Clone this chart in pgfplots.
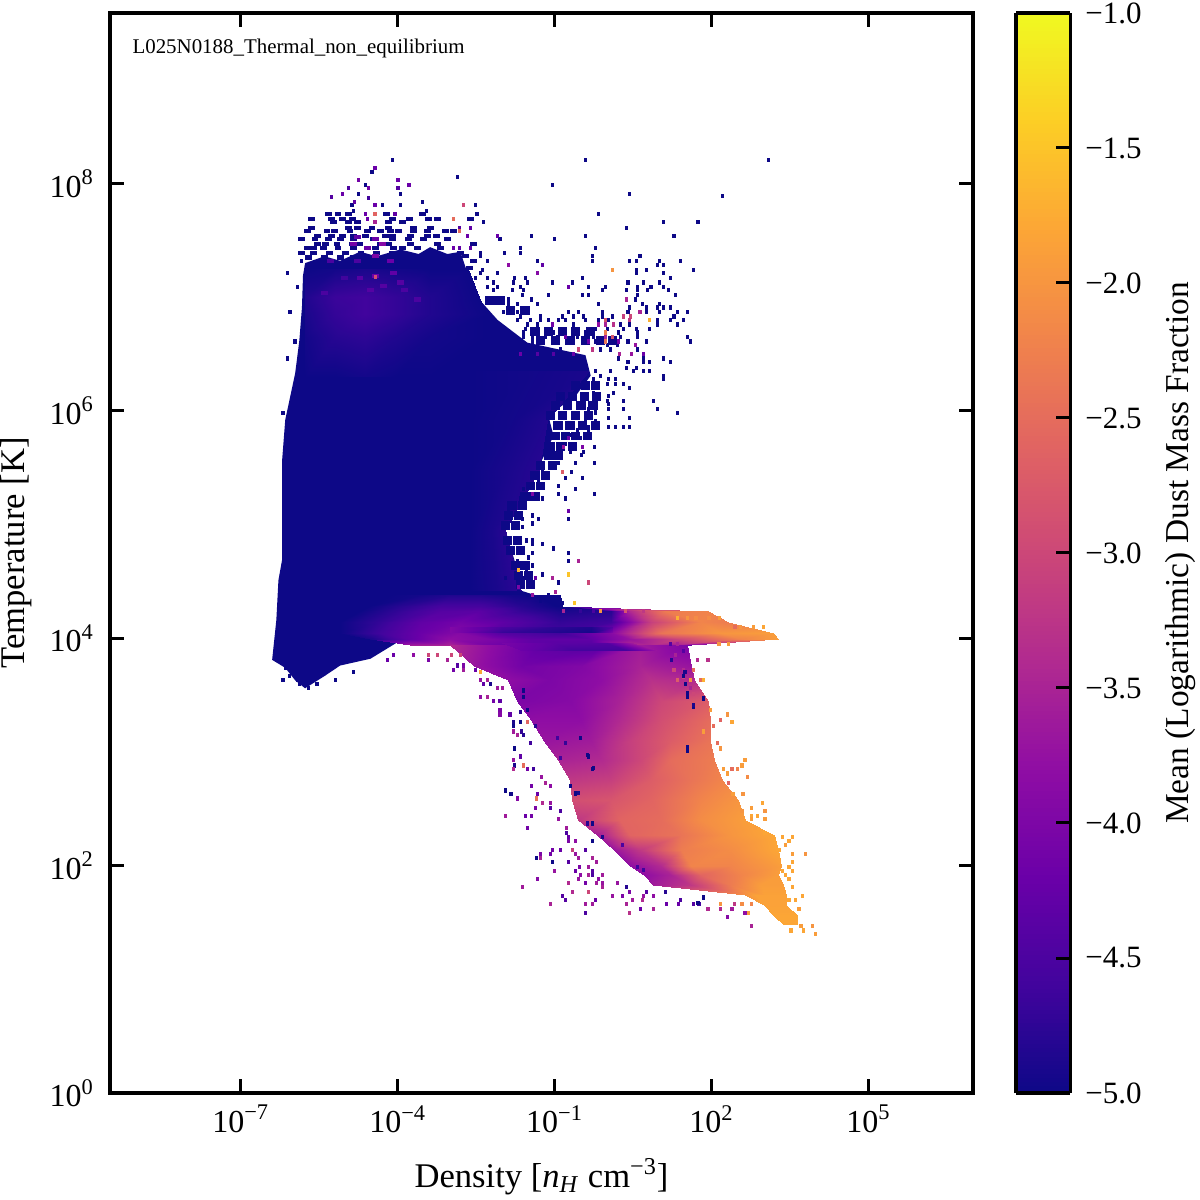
\documentclass[border=0pt]{standalone}
\usepackage{fontspec}
\setmainfont{Liberation Serif}
\usepackage{pgfplots}
\pgfplotsset{compat=1.18}
\definecolor{plasmalow}{RGB}{13,8,135}
% one histogram bin, 3.4 x 4.2 px of the image, and runs of them
\pgfdeclareplotmark{cell}{\pgfpathrectangle{\pgfpoint{-0.85pt}{-1.05pt}}{\pgfpoint{1.7pt}{2.1pt}}\pgfusepathqfill}
\pgfdeclareplotmark{cellw}{\pgfpathrectangle{\pgfpoint{-1.7pt}{-1.05pt}}{\pgfpoint{3.4pt}{2.1pt}}\pgfusepathqfill}
\pgfdeclareplotmark{cellb}{\pgfpathrectangle{\pgfpoint{-2.4pt}{-2.2pt}}{\pgfpoint{4.8pt}{4.4pt}}\pgfusepathqfill}
\newcommand{\pten}[1]{10\textsuperscript{#1}}
\begin{document}
\begin{tikzpicture}
\useasboundingbox (-55pt,-53.5pt) rectangle (545pt,546.5pt);
\begin{axis}[
    at={(0,0)}, anchor=south west,
    scale only axis, width=431.5pt, height=540pt,
    xmin=-9.5, xmax=7, ymin=0, ymax=9.5,
    xtick={-7,-4,-1,2,5},
    xticklabels={\pten{−7},\pten{−4},\pten{−1},\pten{2},\pten{5}},
    ytick={0,2,4,6,8},
    yticklabels={\pten{0},\pten{2},\pten{4},\pten{6},\pten{8}},
    tick align=inside, major tick length=7pt, tickpos=both,
    every tick/.style={line width=1.5pt,black},
    line width=1.6pt,
    tick label style={font=\fontsize{16}{19}\selectfont},
    xticklabel style={yshift=-2pt},
    yticklabel style={xshift=-4pt},
    label style={font=\fontsize{17.3}{20}\selectfont},
    xlabel={Density [\textit{n}\textsubscript{\textit{H}} cm\textsuperscript{−3}]},
    ylabel={Temperature [K]},
    xlabel style={at={(0.5,0)},anchor=base,yshift=-47pt},
    ylabel style={at={(0,0.5)},anchor=base,yshift=42.5pt},
    colormap={plasma}{rgb255=(13,8,135) rgb255=(65,4,157) rgb255=(106,0,168) rgb255=(143,13,164) rgb255=(177,42,144) rgb255=(204,71,120) rgb255=(225,100,98) rgb255=(241,132,75) rgb255=(252,166,54) rgb255=(252,206,37) rgb255=(240,249,33)},
    point meta min=-5, point meta max=-1,
    colorbar sampled,
    colorbar style={
        samples=257,
        at={(parent axis.south east)}, anchor=south west, xshift=13pt,
        width=27pt, height=540pt,
        ytick={-5,-4.5,-4,-3.5,-3,-2.5,-2,-1.5,-1},
        yticklabels={−5.0,−4.5,−4.0,−3.5,−3.0,−2.5,−2.0,−1.5,−1.0},
        yticklabel pos=right, ytick pos=right,
        tick align=inside, major tick length=7pt,
        every tick/.style={line width=1.5pt,black},
        line width=1.6pt,
        tick label style={font=\fontsize{15.5}{18}\selectfont},
        yticklabel style={xshift=3.5pt},
        ylabel={Mean (Logarithmic) Dust Mass Fraction},
        every axis y label/.style={at={(axis description cs:3.04,0.5)},anchor=center,rotate=90,font=\fontsize{16.7}{20}\selectfont},
    },
]
% solid part of the hot low density cloud
\addplot[fill=plasmalow,draw=none] table[row sep=\\]{
-5.77 7.30\\ -5.40 7.36\\ -5.10 7.32\\ -4.72 7.40\\ -4.40 7.36\\ -3.95 7.42\\ -3.60 7.38\\ -3.38 7.44\\ -3.05 7.38\\ -2.80 7.40\\ -2.65 7.19\\ -2.42 6.97\\ -2.09 6.80\\ -1.52 6.60\\
-0.41 6.49\\ -0.31 6.31\\ -0.60 6.13\\ -1.12 5.96\\ -1.02 5.78\\ -1.27 5.54\\ -1.65 5.24\\ -1.94 4.95\\ -1.75 4.66\\
-1.65 4.42\\ -0.89 4.31\\ -0.89 4.11\\ -2.61 4.05\\ -3.38 4.05\\ -3.95 3.98\\ -4.52 3.82\\ -5.10 3.76\\ -5.39 3.67\\
-5.77 3.56\\ -5.96 3.63\\ -6.15 3.74\\ -6.40 3.81\\ -6.32 4.16\\ -6.28 4.51\\ -6.21 4.69\\ -6.21 5.56\\ -6.15 5.92\\
-5.96 6.33\\ -5.88 6.62\\ -5.83 6.91\\ -5.81 7.19\\
} -- cycle;
% purple tint at the top of the cloud
\addplot[surf,shader=interp,mesh/cols=6,point meta=\thisrow{c}] table[row sep=\\]{
x y c\\
-5.77 7.25 -5\\ -5.20 7.25 -4.95\\ -4.62 7.25 -4.9\\ -4.05 7.25 -4.95\\ -3.38 7.25 -5\\ -2.65 7.25 -5\\
-5.77 7.00 -4.85\\ -5.20 7.00 -4.65\\ -4.62 7.00 -4.6\\ -4.05 7.00 -4.7\\ -3.38 7.00 -4.85\\ -2.45 7.00 -5\\
-5.77 6.85 -4.9\\ -5.20 6.85 -4.7\\ -4.62 6.85 -4.6\\ -4.05 6.85 -4.7\\ -3.38 6.85 -4.85\\ -2.30 6.85 -5\\
-5.77 6.65 -4.95\\ -5.20 6.65 -4.8\\ -4.62 6.65 -4.75\\ -4.05 6.65 -4.85\\ -3.38 6.65 -4.95\\ -2.30 6.65 -5\\
-5.77 6.30 -5\\ -5.20 6.30 -5\\ -4.62 6.30 -4.95\\ -4.05 6.30 -5\\ -3.38 6.30 -5\\ -2.30 6.30 -5\\
};
% tint along the right edge of the cloud
\addplot[surf,shader=interp,mesh/cols=3,point meta=\thisrow{c}] table[row sep=\\]{
x y c\\
-2.61 6.35 -5\\ -1.30 6.35 -4.95\\ -0.35 6.35 -4.9\\
-2.61 5.92 -5\\ -1.80 5.92 -4.95\\ -1.15 5.92 -4.85\\
-2.61 5.48 -5\\ -1.90 5.48 -4.9\\ -1.30 5.48 -4.8\\
-2.61 4.95 -5\\ -2.20 4.95 -4.9\\ -1.94 4.95 -4.8\\
-2.61 4.42 -5\\ -2.10 4.42 -4.9\\ -1.65 4.42 -4.75\\
};
% arch and the 10^4 K shelf
\addplot[surf,shader=interp,mesh/cols=10,point meta=\thisrow{c}] table[row sep=\\]{
x y c\\
-4.14 4.38 -5\\ -3.57 4.38 -4.95\\ -2.99 4.38 -4.85\\ -2.42 4.38 -4.85\\ -1.84 4.38 -4.95\\ -1.37 4.38 -5\\ -1.08 4.38 -5\\ -0.96 4.38 -5\\ -0.93 4.38 -5\\ -0.89 4.38 -5\\
-4.52 4.28 -5\\ -3.95 4.28 -4.8\\ -3.18 4.28 -4.55\\ -2.42 4.28 -4.55\\ -1.65 4.28 -4.8\\ -0.98 4.28 -5\\ -0.93 4.28 -5\\ -0.89 4.28 -5\\ -0.87 4.28 -5\\ -0.85 4.28 -5\\
-4.72 4.24 -5\\ -3.95 4.24 -4.7\\ -3.18 4.24 -4.4\\ -2.42 4.24 -4.35\\ -1.65 4.24 -4.7\\ -0.89 4.24 -4.9\\ 0.07 4.24 -4.8\\ 0.45 4.24 -3.4\\ 1.12 4.24 -2.3\\ 1.93 4.24 -2.2\\
-5.10 4.14 -5\\ -4.33 4.14 -4.7\\ -3.57 4.14 -4.3\\ -2.80 4.14 -4.1\\ -2.04 4.14 -4.3\\ -0.89 4.14 -4.7\\ 0.07 4.14 -4.6\\ 0.84 4.14 -3.1\\ 1.79 4.14 -2.2\\ 2.31 4.14 -2.3\\
-5.10 4.05 -5\\ -4.33 4.05 -4.6\\ -3.57 4.05 -4.2\\ -2.80 4.05 -3.9\\ -2.04 4.05 -4.4\\ -0.89 4.05 -4.6\\ 0.07 4.05 -3.9\\ 1.03 4.05 -2.4\\ 2.17 4.05 -2.0\\ 3.17 4.05 -1.9\\
-4.52 3.99 -4.9\\ -3.76 3.99 -4.3\\ -3.00 3.99 -3.8\\ -2.23 3.99 -4.0\\ -1.46 3.99 -4.3\\ -0.31 3.99 -4.3\\ 0.45 3.99 -3.7\\ 1.41 3.99 -3.0\\ 2.56 3.99 -2.2\\ 3.28 3.99 -1.9\\
-3.76 3.94 -3.6\\ -2.99 3.94 -3.5\\ -2.23 3.94 -4.1\\ -1.46 3.94 -4.3\\ -0.31 3.94 -4.4\\ 0.45 3.94 -3.4\\ 0.84 3.94 -3.4\\ 1.22 3.94 -3.6\\ 1.50 3.94 -4\\ 1.60 3.94 -4.3\\
};
% cold dense gas
\addplot[surf,shader=interp,mesh/cols=5,point meta=\thisrow{c}] table[row sep=\\]{
x y c\\
-2.99 3.94 -3.4\\ -1.27 3.94 -4.3\\ -0.12 3.94 -4.4\\ 0.64 3.94 -3.6\\ 1.54 3.94 -4.0\\
-2.55 3.76 -3.7\\ -1.65 3.76 -4.1\\ -0.50 3.76 -3.95\\ 0.64 3.76 -3.5\\ 1.60 3.76 -3.7\\
-1.90 3.63 -3.8\\ -1.08 3.63 -4.0\\ -0.12 3.63 -3.8\\ 0.84 3.63 -3.3\\ 1.66 3.63 -3.4\\
-1.71 3.45 -4\\ -0.70 3.45 -3.9\\ 0.26 3.45 -3.5\\ 1.03 3.45 -3.0\\ 1.93 3.45 -2.7\\
-1.46 3.28 -3.8\\ -0.50 3.28 -3.8\\ 0.26 3.28 -3.4\\ 1.03 3.28 -2.9\\ 1.98 3.28 -2.5\\
-1.21 3.10 -3.7\\ -0.31 3.10 -3.6\\ 0.45 3.10 -3.1\\ 1.22 3.10 -2.7\\ 1.98 3.10 -2.4\\
-0.94 2.93 -3.5\\ -0.12 2.93 -3.4\\ 0.64 2.93 -3.0\\ 1.22 2.93 -2.5\\ 2.04 2.93 -2.3\\
-0.70 2.75 -3.2\\ 0.07 2.75 -3.1\\ 0.84 2.75 -2.7\\ 1.60 2.75 -2.4\\ 2.21 2.75 -2.2\\
-0.66 2.58 -2.9\\ 0.07 2.58 -2.8\\ 0.84 2.58 -2.6\\ 1.79 2.58 -2.2\\ 2.50 2.58 -2.0\\
-0.56 2.40 -3.2\\ 0.26 2.40 -2.6\\ 1.03 2.40 -2.5\\ 1.79 2.40 -2.1\\ 2.65 2.40 -1.9\\
-0.18 2.27 -3.6\\ 0.45 2.27 -2.6\\ 1.41 2.27 -2.4\\ 2.37 2.27 -2.0\\ 3.19 2.27 -1.8\\
0.13 2.14 -3.7\\ 0.64 2.14 -3.2\\ 1.41 2.14 -2.3\\ 2.37 2.14 -2.1\\ 3.27 2.14 -1.8\\
0.45 2.00 -3.8\\ 1.03 2.00 -3.4\\ 1.60 2.00 -2.2\\ 2.37 2.00 -2.2\\ 3.32 2.00 -1.9\\
0.70 1.92 -3.8\\ 1.22 1.92 -3.5\\ 1.79 1.92 -2.6\\ 2.56 1.92 -2.2\\ 3.27 1.92 -1.9\\
0.89 1.83 -3.6\\ 1.60 1.83 -3.2\\ 2.37 1.83 -2.3\\ 2.94 1.83 -1.9\\ 3.36 1.83 -1.9\\
2.65 1.74 -2.0\\ 2.84 1.74 -1.85\\ 3.03 1.74 -1.85\\ 3.23 1.74 -1.85\\ 3.42 1.74 -1.85\\
3.00 1.65 -1.85\\ 3.13 1.65 -1.85\\ 3.23 1.65 -1.85\\ 3.32 1.65 -1.85\\ 3.42 1.65 -1.85\\
3.19 1.56 -1.8\\ 3.28 1.56 -1.8\\ 3.42 1.56 -1.8\\ 3.51 1.56 -1.8\\ 3.65 1.56 -1.8\\
3.38 1.48 -1.8\\ 3.46 1.48 -1.8\\ 3.51 1.48 -1.8\\ 3.57 1.48 -1.8\\ 3.65 1.48 -1.8\\
};
% the two dark streaks through the arch
\addplot[surf,shader=interp,mesh/cols=5,point meta=\thisrow{c}] table[row sep=\\]{
x y c\\
-2.99 4.10 -3.95\\ -2.00 4.10 -4.5\\ -1.00 4.10 -4.75\\ -0.30 4.10 -4.85\\ 0.10 4.10 -4.4\\
-2.99 4.05 -3.95\\ -2.00 4.05 -4.7\\ -1.00 4.05 -4.85\\ -0.30 4.05 -4.95\\ 0.10 4.05 -3.95\\
};
\addplot[surf,shader=interp,mesh/cols=4,point meta=\thisrow{c}] table[row sep=\\]{
x y c\\
-2.00 3.96 -4.05\\ -1.00 3.96 -4.35\\ 0.00 3.96 -4.4\\ 0.50 3.96 -3.6\\
-1.60 3.89 -4.2\\ -0.60 3.89 -4.6\\ 0.40 3.89 -4.6\\ 1.00 3.89 -3.7\\
};
% patchy edge of the cloud
\addplot[only marks,mark=cellb,color=plasmalow] table[row sep=\\]{
-1.84 6.88\\ -1.56 6.88\\ -2.23 6.97\\ -2.04 6.97\\ -1.37 6.70\\ -1.12 6.70\\ -0.85 6.70\\ -0.60 6.70\\ -0.31 6.70\\ -1.27 6.62\\ -0.98 6.62\\ -0.70 6.62\\ -0.41 6.62\\ -0.12 6.62\\ 0.11 6.62\\
-0.60 6.22\\ -0.41 6.22\\ -0.22 6.22\\ -0.89 6.13\\ -0.66 6.13\\ -0.43 6.13\\ -0.20 6.13\\ -0.98 6.05\\ -0.75 6.05\\ -0.50 6.05\\ -0.27 6.05\\ -1.08 5.96\\ -0.85 5.96\\ -0.60 5.96\\ -0.35 5.96\\
-0.93 5.87\\ -0.70 5.87\\ -0.47 5.87\\ -0.22 5.87\\ -0.98 5.78\\ -0.79 5.78\\ -0.60 5.78\\ -0.37 5.78\\ -1.08 5.69\\ -0.89 5.69\\ -0.66 5.69\\ -1.12 5.61\\ -0.93 5.61\\ -1.27 5.52\\ -1.04 5.52\\ -1.37 5.43\\ -1.17 5.43\\
-1.46 5.34\\ -1.27 5.34\\ -1.56 5.25\\ -1.37 5.25\\ -1.81 5.17\\ -1.61 5.17\\ -1.88 5.08\\ -1.69 5.08\\ -1.94 4.99\\ -1.75 4.99\\ -1.90 4.86\\ -1.71 4.86\\ -1.84 4.77\\ -1.65 4.77\\ -1.75 4.64\\ -1.56 4.64\\ -1.69 4.55\\ -1.50 4.55\\ -1.65 4.47\\ -1.46 4.47\\
};
% broken rows above the solid part
\addplot[only marks,mark=cellw,color=plasmalow] table[row sep=\\]{
-5.33 7.73\\ -5.14 7.73\\ -4.94 7.73\\ -4.22 7.73\\ -3.53 7.73\\
-5.65 7.69\\ -5.27 7.69\\ -5.06 7.69\\ -4.87 7.69\\ -4.10 7.69\\ -3.78 7.69\\ -3.41 7.69\\ -3.24 7.69\\ -2.61 7.69\\
-5.23 7.66\\ -4.94 7.66\\ -4.77 7.66\\ -4.18 7.66\\ -3.91 7.66\\
-5.65 7.61\\ -4.94 7.61\\ -4.77 7.61\\ -4.49 7.61\\ -4.18 7.61\\ -3.70 7.61\\ -3.38 7.61\\
-5.73 7.58\\ -5.35 7.58\\ -5.21 7.58\\ -4.91 7.58\\ -4.58 7.58\\ -4.33 7.58\\ -4.14 7.58\\ -3.99 7.58\\ -3.70 7.58\\ -3.43 7.58\\ -3.09 7.58\\ -2.93 7.58\\
-5.54 7.54\\ -5.27 7.54\\ -5.06 7.54\\ -4.85 7.54\\ -4.62 7.54\\ -4.24 7.54\\ -4.10 7.54\\ -3.76 7.54\\ -3.43 7.54\\ -3.26 7.54\\
-5.84 7.51\\ -5.58 7.51\\ -5.33 7.51\\ -5.10 7.51\\ -4.85 7.51\\ -4.47 7.51\\ -4.10 7.51\\ -3.80 7.51\\ -3.51 7.51\\ -3.05 7.51\\
-5.54 7.47\\ -5.38 7.47\\ -5.16 7.47\\ -4.87 7.47\\ -4.72 7.47\\ -4.33 7.47\\ -4.18 7.47\\ -3.76 7.47\\ -3.24 7.47\\ -2.55 7.47\\
-5.73 7.43\\ -5.61 7.43\\ -5.42 7.43\\ -5.14 7.43\\ -4.85 7.43\\ -4.58 7.43\\ -4.43 7.43\\ -4.08 7.43\\ -3.91 7.43\\ -3.62 7.43\\ -3.18 7.43\\
-5.84 7.39\\ -5.61 7.39\\ -5.30 7.39\\ -5.00 7.39\\ -4.70 7.39\\ -4.40 7.39\\ -4.10 7.39\\ -2.80 7.39\\ -5.70 7.35\\ -5.40 7.35\\ -5.10 7.35\\ -4.85 7.35\\ -2.70 7.36\\ -2.55 7.32\\ -2.62 7.26\\
};
% isolated dark bins
\addplot[only marks,mark=cell,color=plasmalow] table[row sep=\\]{
-4.10 8.21\\ -0.41 8.21\\ 3.09 8.21\\ -4.49 8.10\\ -2.86 8.06\\ -4.62 7.99\\ -1.04 7.99\\ -4.75 7.91\\ -3.95 7.91\\ 0.43 7.91\\ -3.53 7.84\\ 2.21 7.89\\
-4.29 7.81\\ -3.95 7.81\\ -2.51 7.81\\ -4.87 7.81\\ -4.85 7.76\\ -3.45 7.76\\ -2.48 7.73\\ -0.16 7.73\\
-2.36 7.66\\ 1.08 7.66\\ 1.74 7.66\\ 0.38 7.61\\ -1.44 7.54\\ -0.41 7.54\\ 1.28 7.54\\ -2.04 7.51\\ -1.00 7.51\\ -1.65 7.43\\ -0.22 7.43\\
-2.42 7.39\\ -1.96 7.39\\ -1.65 7.39\\ -2.42 7.36\\ -0.27 7.36\\ 0.63 7.36\\
-5.84 7.32\\ -2.28 7.32\\ -1.33 7.32\\ -0.27 7.32\\ 0.43 7.32\\ 0.57 7.32\\ 1.01 7.32\\ 1.41 7.32\\ 0.97 7.28\\ 1.08 7.28\\
-2.38 7.24\\ 0.57 7.24\\ 0.76 7.24\\ 1.66 7.24\\ -6.11 7.21\\ -2.42 7.21\\ -2.09 7.21\\ 0.57 7.21\\ 1.08 7.21\\
-2.51 7.17\\ -2.28 7.17\\ -1.77 7.17\\ -1.56 7.17\\ -0.47 7.17\\ 1.22 7.17\\ -2.17 7.13\\ -1.79 7.13\\ -1.52 7.13\\ -1.04 7.13\\ -0.66 7.13\\ 0.40 7.13\\ 0.70 7.13\\ 1.01 7.13\\
-5.92 7.09\\ -2.28 7.09\\ -2.09 7.09\\ -1.65 7.09\\ -0.35 7.09\\ -0.03 7.09\\ 0.59 7.09\\ 0.84 7.09\\ 1.08 7.09\\
-2.17 7.06\\ -1.81 7.06\\ -1.60 7.06\\ -0.08 7.06\\ 0.38 7.06\\ 0.59 7.06\\ 0.78 7.06\\ 1.18 7.06\\
-1.61 7.02\\ -1.12 7.02\\ -0.47 7.02\\ -0.35 7.02\\ 0.59 7.02\\ 1.31 7.02\\ -1.88 6.98\\ -1.44 6.98\\ 0.55 6.98\\
-1.88 6.94\\ -1.71 6.94\\ -1.33 6.94\\ -0.16 6.94\\ 0.68 6.94\\ 1.01 6.94\\ 0.43 6.91\\ 0.76 6.91\\ 0.97 6.91\\ 1.08 6.91\\ 1.22 6.91\\
-6.06 6.87\\ -1.98 6.87\\ -1.71 6.87\\ -0.73 6.87\\ -0.54 6.87\\ -0.08 6.87\\ 0.40 6.87\\ 0.76 6.87\\ 1.01 6.87\\ 1.35 6.87\\ 1.54 6.87\\
-1.65 6.83\\ -1.27 6.83\\ -0.85 6.83\\ -0.64 6.83\\ -0.45 6.83\\ -0.08 6.83\\ 0.11 6.83\\ 1.28 6.83\\
-1.71 6.80\\ -1.46 6.80\\ -1.27 6.80\\ -1.12 6.80\\ -0.93 6.80\\ -0.79 6.80\\ -0.41 6.80\\ -0.16 6.80\\ 0.03 6.80\\ 0.97 6.80\\ 1.22 6.80\\ 1.47 6.80\\
-1.52 6.76\\ -1.33 6.76\\ -0.64 6.76\\ 0.26 6.76\\ 0.43 6.76\\ 0.97 6.76\\ 1.35 6.76\\
-1.56 6.72\\ -1.37 6.72\\ -0.79 6.72\\ -0.35 6.72\\ -0.22 6.72\\ 0.01 6.72\\ 0.32 6.72\\ 0.57 6.72\\ 0.82 6.72\\
-1.60 6.69\\ -1.42 6.69\\ -1.14 6.69\\ -1.02 6.69\\ -0.41 6.69\\ 0.22 6.69\\ 0.59 6.69\\
-1.60 6.65\\ -1.42 6.65\\ -1.17 6.65\\ -0.94 6.65\\ -0.56 6.65\\ -0.41 6.65\\ -0.26 6.65\\ 0.26 6.65\\ 0.59 6.65\\ 1.54 6.65\\
-5.96 6.61\\ -1.42 6.61\\ -1.27 6.61\\ -0.94 6.61\\ -0.70 6.61\\ -0.22 6.61\\ -0.12 6.61\\ 0.40 6.61\\ 0.76 6.61\\ 1.60 6.61\\
0.01 6.58\\ 0.20 6.58\\ -1.21 6.54\\ -0.89 6.54\\ -0.12 6.54\\ 0.07 6.54\\ 0.59 6.54\\
-6.11 6.46\\ 0.22 6.46\\ 0.70 6.46\\ 1.08 6.46\\ -0.85 6.43\\ 0.40 6.43\\ 0.70 6.43\\ 0.82 6.43\\ 1.22 6.43\\ 0.38 6.38\\ 0.57 6.38\\
-0.22 6.35\\ 0.07 6.35\\ 0.51 6.35\\ 0.70 6.35\\ 0.82 6.35\\ -0.12 6.31\\ 1.08 6.31\\ -0.26 6.28\\ 0.03 6.28\\ 0.17 6.28\\ 1.08 6.28\\
-0.16 6.24\\ 0.01 6.24\\ 0.17 6.24\\ 0.32 6.24\\ 0.43 6.20\\ -0.26 6.16\\ 0.13 6.16\\ -0.16 6.13\\ 0.03 6.13\\
-0.26 6.09\\ 0.01 6.09\\ 0.32 6.09\\ 0.89 6.09\\ 0.03 6.06\\ -0.35 6.02\\ -0.22 6.02\\ 0.03 6.02\\ 0.32 6.02\\ 0.97 6.02\\
-6.19 5.98\\ -0.35 5.98\\ -0.22 5.98\\ 1.35 5.98\\ -0.35 5.94\\ 0.03 5.94\\ 0.43 5.94\\ -0.41 5.91\\ -0.22 5.91\\
-0.35 5.86\\ -0.16 5.86\\ 0.03 5.86\\ 0.17 5.86\\ 0.32 5.86\\ 0.43 5.86\\ -0.56 5.83\\ -0.35 5.83\\ -0.70 5.79\\ -0.31 5.79\\
-0.93 5.76\\ -0.66 5.76\\ -0.50 5.76\\ -0.79 5.71\\ -0.60 5.71\\ -0.83 5.68\\ -0.66 5.68\\ -0.24 5.68\\
-1.02 5.64\\ -0.70 5.64\\ -0.45 5.64\\ -0.49 5.61\\ -0.93 5.54\\ -0.60 5.54\\ -0.24 5.54\\ -1.23 5.46\\ -0.68 5.46\\
-1.42 5.41\\ -1.31 5.41\\ -0.79 5.41\\ -0.47 5.41\\ -1.31 5.37\\ -0.93 5.34\\ -1.60 5.31\\ -0.60 5.31\\ -0.93 5.27\\ -0.24 5.27\\
-1.65 5.23\\ -1.23 5.23\\ -0.79 5.23\\ -1.88 5.12\\ -1.75 5.08\\ -1.42 5.08\\ -1.61 5.05\\ -1.31 5.05\\ -0.73 5.05\\ -1.42 5.01\\ -1.61 4.98\\
-1.54 4.86\\ -1.42 4.86\\ -1.42 4.83\\ -1.23 4.83\\ -1.71 4.79\\ -1.02 4.79\\ -1.61 4.75\\ -1.42 4.75\\ -0.73 4.75\\ -1.50 4.71\\
-1.71 4.68\\ -0.73 4.68\\ -1.54 4.64\\ -1.42 4.64\\ -1.54 4.60\\ -1.23 4.56\\ -1.94 4.53\\ -1.61 4.53\\ -0.93 4.49\\ -1.42 4.45\\ -1.69 4.41\\
-1.52 4.38\\ -1.12 4.38\\ -1.27 4.33\\ -1.08 4.33\\ -0.94 4.33\\ -0.85 4.31\\
-6.15 3.74\\ -6.07 3.67\\ -6.19 3.63\\ -5.19 3.63\\ -5.92 3.63\\ -5.88 3.60\\ -5.71 3.56\\ -5.54 3.60\\ -4.85 3.70\\
};
% purple runs in the top of the cloud
\addplot[scatter,only marks,mark=cellw,scatter src=explicit] table[row sep=\\,meta=c]{
x y c\\
-4.43 7.36 -4.0\\ -4.43 7.51 -4.2\\ -4.29 7.47 -3.9\\ -4.14 7.32 -4.2\\ -4.08 7.21 -4.3\\ -4.43 7.19 -4.2\\ -4.72 7.17 -4.4\\ -3.95 7.13 -4.4\\ -4.27 7.10 -4.4\\ -4.52 7.06 -4.4\\ -5.40 7.04 -4.5\\ -3.62 6.98 -4.5\\ -4.77 7.53 -4.3\\ -4.85 7.47 -4.1\\ -4.58 7.43 -4.2\\ -4.77 7.32 -4.5\\ -5.29 7.32 -4.5\\ -5.02 7.17 -4.6\\ -3.87 7.06 -4.5\\
};
% isolated bins with a colour of their own
\addplot[scatter,only marks,mark=cell,scatter src=explicit] table[row sep=\\,meta=c]{
x y c\\
-4.43 8.14 -4.2\\ -4.75 8.03 -4.1\\ -3.99 8.03 -4.2\\ -3.78 7.99 -4.2\\ -4.94 7.96 -4.5\\ -4.56 7.96 -4.1\\ -3.99 7.96 -4.4\\
-5.06 7.91 -4.2\\ -5.27 7.88 -4.4\\ -4.56 7.87 -4.6\\ -4.83 7.84 -4.3\\ -4.43 7.81 -4.2\\ -2.74 7.81 -3\\ -4.62 7.73 -4.2\\ -4.43 7.73 -2.6\\ -4.05 7.73 -4.3\\
-4.58 7.69 -4.2\\ -2.93 7.69 -2.5\\ -4.43 7.66 -3.5\\ -2.82 7.61 -4.4\\ -2.61 7.61 -4.3\\ -2.82 7.58 -2.5\\ -2.67 7.54 -4.2\\ -2.09 7.54 -4.2\\ -2.93 7.43 -4.2\\ -2.82 7.43 -4.3\\ -2.61 7.43 -4.3\\
-4.42 7.18 -2.9\\
-1.88 7.28 -3.8\\ -1.23 7.28 -4.3\\ 0.11 7.24 -2\\ -1.33 7.21 -3.9\\ -0.73 7.09 -4.2\\ 0.38 6.98 -3.5\\ 0.63 6.87 -3.5\\ 0.32 6.83 -3.1\\ 0.45 6.83 -3\\ -0.03 6.80 -2.8\\ 0.43 6.80 -3.2\\ 0.82 6.80 -1.7\\
-1.04 6.76 -4.1\\ -0.16 6.76 -3.8\\ -0.03 6.76 -3.5\\ 0.13 6.76 -3.3\\ -0.03 6.69 -2.3\\ -0.79 6.65 -4.2\\ -0.03 6.65 -3.5\\ 0.11 6.65 -2.8\\ -0.35 6.61 -4.2\\ -0.03 6.61 -2.4\\ 0.22 6.61 -4.1\\ 0.55 6.58 -3.7\\
-0.54 6.54 -3\\ -0.27 6.54 -3.2\\ -1.65 6.50 -4.2\\ -1.33 6.50 -4.4\\ -1.02 6.50 -4.4\\ -0.64 6.50 -4.2\\ 0.24 6.50 -3.5\\ 0.47 6.50 -3.7\\ 0.70 6.50 -4.2\\
-0.85 5.46 -2.7\\ -0.73 5.76 -4.2\\ -0.47 5.68 -4\\ -0.83 5.68 -3.7\\ -1.42 5.27 -4\\ -0.73 5.12 -4.2\\ -0.54 4.68 -3.5\\ -1.69 4.60 -1.7\\ -0.73 4.56 -1.5\\ -1.37 4.53 -4.2\\ -1.04 4.53 -3.5\\ -0.35 4.49 -3\\
-1.69 4.45 -4\\ -0.98 4.41 -3.5\\ -1.42 4.38 -3.7\\ -0.62 4.31 -1.5\\
-0.83 4.24 -3.5\\ -0.50 4.24 -4.7\\ -0.26 4.24 -4.5\\ 0.70 4.24 -3.2\\ 0.36 4.24 -2.8\\ -0.12 4.24 -2\\ 1.35 4.18 -1.7\\ 1.54 4.18 -2\\ 1.70 4.18 -2.1\\ 1.95 4.18 -2.1\\ 2.15 4.18 -1.9\\
2.45 4.10 -2.5\\ 2.55 4.10 -2\\ 2.80 4.10 -1.9\\ 2.99 4.10 -1.8\\ 2.14 3.95 -2\\ 2.33 3.95 -1.9\\ 1.22 3.95 -4.4\\ 1.35 3.95 -3.5\\ 1.47 3.89 -4.4\\ 1.31 3.85 -3.5\\
-4.08 3.85 -4.2\\ -3.70 3.85 -3.8\\ -3.41 3.85 -3\\ -3.24 3.85 -3\\ -2.97 3.85 -3\\ -2.80 3.85 -3\\ -4.20 3.81 -4.2\\ -3.41 3.81 -4\\ -3.05 3.81 -3.5\\ 1.73 3.81 -3.4\\ 1.24 3.81 -4.8\\
-2.86 3.76 -4.4\\ -2.74 3.76 -4\\ -2.93 3.72 -4.1\\ -2.74 3.72 -3.6\\ -2.51 3.72 -4.2\\ 1.28 3.72 -3\\ 1.47 3.72 -3.4\\ 1.47 3.66 -3\\ -2.42 3.63 -3.7\\ 1.60 3.63 -2\\ 1.35 3.63 -2.7\\
-2.36 3.60 -4.3\\ -2.0 3.56 -3.6\\ 1.60 3.56 -3.5\\ 1.66 3.51 -3\\ -2.42 3.48 -3.8\\
-2.28 3.63 -3.5\\ -2.23 3.60 -4.9\\ -2.09 3.56 -3.6\\ -2.28 3.48 -3.5\\ -2.17 3.45 -4.1\\ -2.04 3.45 -4.3\\ -2.04 3.37 -4\\ -2.04 3.33 -3.9\\ -1.85 3.33 -4.3\\ -1.79 3.26 -4.9\\ -1.79 3.23 -5\\ -1.65 3.26 -5\\ -1.52 3.26 -2.6\\ -1.79 3.18 -3.6\\ -1.71 3.15 -3.5\\ -1.63 3.18 -4.7\\ -1.60 3.15 -4.8\\ -1.46 3.08 -4.6\\ -1.77 3.03 -5\\ -1.65 2.96 -4.3\\ -1.79 2.93 -3.7\\ -1.77 2.88 -4.9\\ -1.60 2.88 -2.5\\ -1.79 2.85 -3.4\\ -1.52 2.85 -4.1\\ -1.40 2.85 -4.6\\
-1.25 2.78 -3.7\\ -1.17 2.73 -3.5\\ -1.44 2.70 -4.1\\ -1.08 2.70 -3.8\\ -1.94 2.66 -5\\ -1.83 2.63 -5\\ -1.33 2.63 -4.2\\ -1.71 2.59 -3.9\\ -1.35 2.59 -2.4\\ -1.23 2.55 -3.4\\ -1.08 2.55 -3.7\\ -1.37 2.51 -4\\ -1.08 2.51 -4.4\\ -0.89 2.48 -4.5\\ -1.94 2.44 -3.6\\ -1.56 2.44 -4.2\\ -1.44 2.44 -4.1\\ -0.93 2.41 -3.7\\ -1.52 2.33 -4.1\\ -0.77 2.33 -3.6\\ -0.77 2.29 -4.5\\ -0.73 2.25 -4.2\\ -0.73 2.22 -4\\ -0.60 2.22 -3.8\\ -1.04 2.14 -4.1\\ -0.89 2.14 -4.2\\ -0.66 2.14 -3.1\\ -0.41 2.14 -4.4\\ -1.27 2.10 -4\\ -1.08 2.10 -4.1\\ -0.60 2.10 -3.7\\ -1.35 2.07 -5\\ -1.27 2.07 -3.5\\ -0.54 2.07 -3.6\\ -0.27 2.07 -3.5\\ -1.04 2.03 -5\\ -0.73 2.03 -4.4\\ -0.20 2.03 -3.6\\ -0.52 1.99 -4\\ -0.35 1.99 -3.6\\ -1.00 1.95 -3.7\\ -0.60 1.95 -4.2\\ -0.27 1.95 -4.4\\ -0.50 1.92 -3.8\\ -0.35 1.92 -3.5\\ -0.27 1.92 -4.5\\ -0.08 1.92 -3.6\\ -1.33 1.88 -3.9\\ -0.54 1.88 -3.7\\ -0.16 1.88 -3.8\\ -0.73 1.85 -3.4\\ -0.41 1.85 -4.1\\ -0.20 1.85 -3.6\\ -0.08 1.85 -3.7\\ 0.20 1.85 -3.7\\ -1.61 1.81 -3.6\\ -0.08 1.81 -3.5\\ 0.38 1.81 -4.8\\ -0.66 1.77 -3.4\\ -0.35 1.77 -3\\ 0.43 1.77 -4\\ 0.76 1.77 -4.4\\
-0.85 1.73 -4.4\\ 0.11 1.73 -3.7\\ 0.30 1.73 -4\\ 0.70 1.73 -3.7\\ 0.89 1.73 -3.8\\ -0.79 1.70 -4.4\\ -0.22 1.70 -4.2\\ 0.49 1.70 -3.6\\ 0.68 1.70 -3.4\\ 1.41 1.70 -4.5\\ -1.08 1.66 -3.5\\ -0.41 1.66 -3.6\\ -0.27 1.66 -3.6\\ 0.38 1.66 -3.5\\ 1.14 1.66 -4.2\\ 1.37 1.66 -4.2\\ 1.66 1.66 -4.4\\ 1.76 1.66 -4.6\\ 2.17 1.66 -2\\ 2.44 1.66 -3.2\\ 2.58 1.66 -2.1\\ 2.77 1.66 -2.2\\
0.64 1.62 -4.2\\ 0.89 1.62 -3.5\\ 1.93 1.62 -3.4\\ 2.17 1.62 -3.4\\ 2.39 1.62 -3.6\\ 0.43 1.58 -3.3\\ -0.41 1.58 -4.5\\ 2.64 1.58 -3.8\\ 2.71 1.58 -1.9\\ 2.31 1.55 -3.9\\ 2.77 1.47 -3.5\\
3.52 1.43 -1.8\\ 3.76 1.43 -1.8\\ 3.99 1.40 -1.9\\ 3.93 1.47 -2\\ 3.71 1.47 -1.9\\
1.93 3.81 -3.3\\ 1.66 3.72 -2.5\\ 1.85 3.63 -1.7\\ 1.79 3.63 -2.5\\ 1.98 3.37 -1.9\\ 2.31 3.33 -2\\ 2.17 3.28 -2.6\\ 2.39 3.26 -1.8\\ 2.04 3.23 -2.5\\ 1.85 3.18 -1.9\\ 2.12 3.08 -2.5\\ 2.17 3.03 -2\\
2.64 2.93 -1.9\\ 2.58 2.88 -1.9\\ 2.23 2.85 -1.9\\ 2.39 2.85 -2.5\\ 2.50 2.85 -2.2\\ 2.31 2.81 -1.9\\ 2.69 2.78 -2.1\\ 2.33 2.73 -2.6\\ 2.60 2.63 -2\\ 2.41 2.63 -1.9\\ 2.98 2.55 -1.8\\ 2.77 2.51 -1.9\\ 3.02 2.48 -2\\ 2.58 2.48 -2\\ 2.77 2.44 -1.8\\ 2.88 2.44 -1.8\\ 2.77 2.41 -1.9\\ 3.02 2.41 -1.9\\ 2.64 2.37 -1.9\\ 2.83 2.33 -1.9\\ 3.02 2.29 -1.8\\ 3.36 2.25 -1.8\\ 3.55 2.25 -1.8\\ 3.48 2.22 -1.8\\ 3.42 2.18 -1.9\\ 3.29 2.14 -1.8\\ 3.80 2.10 -2\\ 3.55 2.10 -1.9\\ 3.55 2.03 -1.8\\ 3.48 1.99 -1.8\\ 3.55 1.95 -1.8\\ 3.36 1.95 -1.8\\ 3.42 1.92 -1.8\\ 3.48 1.88 -1.8\\ 3.55 1.81 -1.8\\ 3.74 1.73 -1.8\\ 3.48 1.70 -1.8\\ 3.61 1.70 -1.8\\ 3.67 1.62 -1.9\\
1.49 3.70 -4.9\\ 1.54 3.48 -5\\ 1.85 3.47 -5\\ 1.66 3.40 -5\\ 1.47 3.67 -5\\ 1.54 3.01 -5\\ -0.51 3.12 -5\\ -0.35 2.96 -5\\ -0.60 2.63 -5\\ -0.27 2.37 -5\\ -0.27 2.85 -5\\ -0.70 2.70 -5\\ -2.42 3.70 -1.8\\
-1.60 3.54 -5\\ -1.60 3.48 -5\\ -1.52 3.37 -5\\ -1.65 3.35 -4.8\\ -1.37 3.23 -4.8\\ -0.94 3.12 -4.6\\ -0.79 3.08 -4.7\\ -0.89 2.95 -4.6\\ -0.37 2.97 -5\\ -0.26 2.86 -5\\ -0.60 2.64 -5\\ -0.54 2.64 -4.9\\ -0.37 2.37 -4.8\\ -0.08 2.25 -4.9\\ -0.27 2.22 -5\\ 0.30 2.18 -4.5\\ 0.59 1.99 -4.6\\ 0.70 1.96 -4.6\\ 1.12 1.77 -4.8\\ 1.74 1.67 -5\\ 1.85 1.72 -5\\ 1.54 3.04 -5\\ 1.50 3.60 -5\\ 1.54 3.52 -5\\ 1.66 3.41 -4.9\\
};
\node[anchor=west,inner sep=0pt,font=\fontsize{10.45}{12}\selectfont] at (rel axis cs:0.0243,0.9676) {L025N0188\_Thermal\_non\_equilibrium};
\end{axis}
\end{tikzpicture}
\end{document}
